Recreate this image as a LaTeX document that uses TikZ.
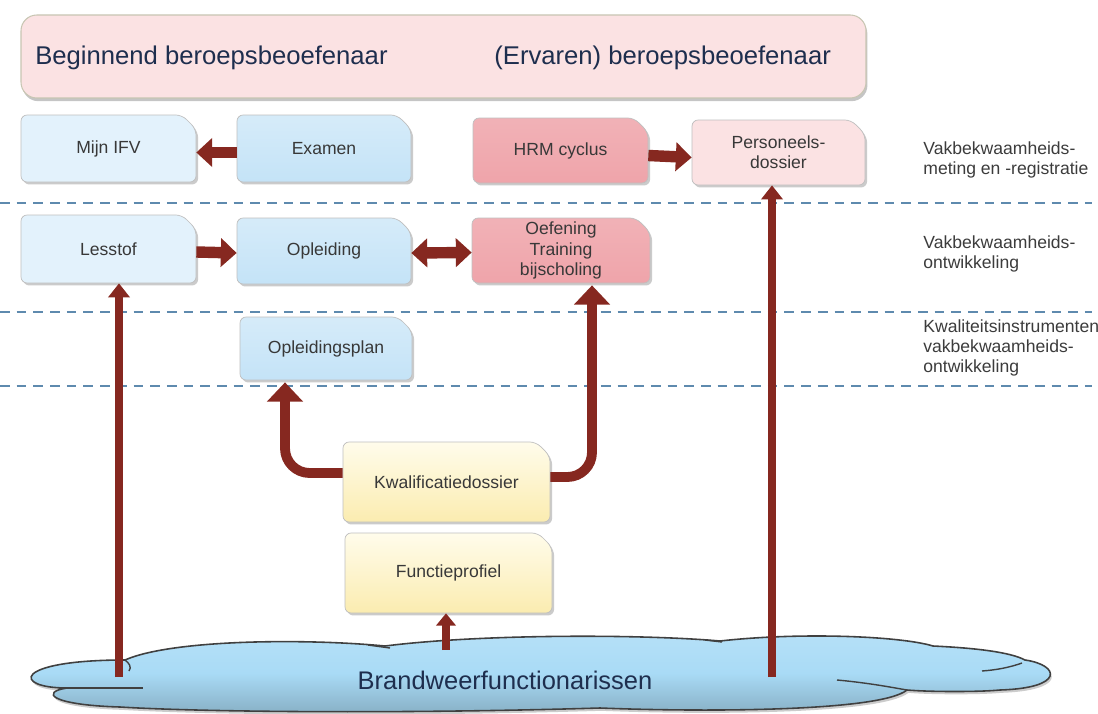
\documentclass[tikz,border=0pt]{standalone}
\usepackage{fontspec}
\setmainfont{Liberation Sans}
\usetikzlibrary{arrows.meta,shadows,calc}
\definecolor{arrred}{HTML}{862820}
\definecolor{dashc}{HTML}{5E8AAE}
\definecolor{lblue}{HTML}{E3F2FC}
\definecolor{mblue}{HTML}{C4E3F7}
\definecolor{dpink}{HTML}{EFA4AA}
\definecolor{lpink}{HTML}{FBE2E3}
\definecolor{ytop}{HTML}{FFFCEB}
\definecolor{ybot}{HTML}{FBECB0}
\definecolor{cloudc}{HTML}{A9DBF6}
\definecolor{navy}{HTML}{1E2E4E}
\definecolor{labelc}{HTML}{3C3C3C}
\tikzset{
  x=0.02cm, y=-0.02cm,
  boxbase/.style={draw=black!25, line width=0.4pt, rounded corners=3.5pt,
    drop shadow={shadow xshift=1.2pt, shadow yshift=-1.4pt, fill=black!45, opacity=0.45}},
  bluelight/.style={fill=lblue},
  bluemid/.style={top color=mblue!70!white, bottom color=mblue},
  pinkdark/.style={top color=dpink!85!white, bottom color=dpink},
  pinklight/.style={fill=lpink},
  yellowbox/.style={top color=ytop, bottom color=ybot},
  boxtext/.style={inner sep=0pt, align=center, text=black!78,
    font=\fontsize{10}{11.5}\selectfont},
  harr/.style={draw=arrred, line width=6.5pt, -{Triangle[width=16pt,length=9pt]}},
  darr/.style={draw=arrred, line width=6.5pt, {Triangle[width=16pt,length=9pt]}-{Triangle[width=16pt,length=9pt]}},
  varr/.style={draw=arrred, line width=4.6pt, -{Triangle[width=12pt,length=8pt]}},
  carr/.style={draw=arrred, line width=5.6pt, rounded corners=14pt, -{Triangle[width=20pt,length=11pt]}},
  sarr/.style={draw=arrred, line width=4pt, -{Triangle[width=11pt,length=7pt]}},
  dashline/.style={draw=dashc, line width=1.1pt, dash pattern=on 5.5pt off 4pt},
  sidelabel/.style={anchor=west, align=left, inner sep=0pt, text=labelc,
    font=\fontsize{10}{11.3}\selectfont},
  cloudstroke/.style={draw=black!75, line width=0.8pt},
}
\newcommand{\mybox}[7]{%
  \path[boxbase,#6] (#2,#5) -- (#2,#3) -- ({#4-14},#3) -- (#4,{#3+14}) -- (#4,#5) -- cycle;
  \pgfmathsetmacro\bw{(#4-#2)*0.02}%
  \pgfmathsetmacro\bh{(#5-#3)*0.02}%
  \node[boxtext, minimum width=\bw cm, minimum height=\bh cm] (#1) at ({(#2+#4)/2},{(#3+#5)/2}) {#7};%
}
\begin{document}
\begin{tikzpicture}
\useasboundingbox[fill=white] (0,0) rectangle (1098,713);

% dashed separators
\draw[dashline] (0,203) -- (1092,203);
\draw[dashline] (0,312) -- (1092,312);
\draw[dashline] (0,386) -- (1092,386);

% banner
\path[draw=olive!35!black!30, line width=0.6pt, fill=lpink, rounded corners=9pt,
  drop shadow={shadow xshift=0.8pt, shadow yshift=-1.8pt, fill=black!50, opacity=0.45}]
  (21,15) rectangle (866,98);
\node[anchor=west, inner sep=0pt, text=navy, font=\fontsize{14.6}{16}\selectfont] (beg) at (35,58) {Beginnend beroepsbeoefenaar};
\node[anchor=west, inner sep=0pt, text=navy, font=\fontsize{14.6}{16}\selectfont] (erv) at (494,58) {(Ervaren) beroepsbeoefenaar};

% boxes
\mybox{mijn}{21}{115}{196}{182}{bluelight}{Mijn IFV}
\mybox{examen}{237}{115}{411}{182}{bluemid}{Examen}
\mybox{hrm}{473}{118}{648}{183}{pinkdark}{HRM cyclus}
\mybox{pers}{692}{120}{865}{185}{pinklight}{Personeels-\\dossier}
\mybox{lesstof}{21}{215}{196}{283}{bluelight}{Lesstof}
\mybox{opl}{237}{218}{411}{284}{bluemid}{Opleiding}
\mybox{oef}{472}{218}{650}{283}{pinkdark}{Oefening\\Training\\bijscholing}
\mybox{oplplan}{240}{317}{412}{380}{bluemid}{Opleidingsplan}
\mybox{kwal}{343}{442}{550}{522}{yellowbox}{Kwalificatiedossier}
\mybox{func}{345}{533}{552}{613}{yellowbox}{Functieprofiel}

% side labels
\node[sidelabel] (lab1) at (923,160) {Vakbekwaamheids-\\meting en -registratie};
\node[sidelabel] (lab2) at (923,254) {Vakbekwaamheids-\\ontwikkeling};
\node[sidelabel] (lab3) at (923,348) {Kwaliteitsinstrumenten\\vakbekwaamheids-\\ontwikkeling};

% cloud
\path[draw=black!75, line width=0.9pt, top color=cloudc!85!white, bottom color=cloudc!80!black,
  middle color=cloudc,
  drop shadow={shadow xshift=0.8pt, shadow yshift=-1.6pt, fill=black!50, opacity=0.4}]
  (67,688) .. controls (12,688) and (12,660) .. (125,660)
  .. controls (170,640) and (300,638) .. (385,646)
  .. controls (480,634) and (640,634) .. (720,641)
  .. controls (800,632) and (900,636) .. (933,646)
  .. controls (975,648) and (1010,652) .. (1025,660)
  .. controls (1060,665) and (1065,688) .. (1000,690)
  .. controls (980,692) and (930,692) .. (907,690)
  .. controls (880,712) and (700,712) .. (600,708)
  .. controls (400,714) and (200,712) .. (120,707)
  .. controls (50,705) and (40,692) .. (67,688) -- cycle;
\draw[cloudstroke] (125,660) .. controls (129,663) and (132,667) .. (129,671);
\draw[cloudstroke] (67,688) -- (143,688);
\draw[cloudstroke] (368,645) -- (390,648);
\draw[cloudstroke] (705,640) -- (722,642);
\draw[cloudstroke] (837,680) .. controls (870,683) and (895,688) .. (907,690);
\draw[cloudstroke] (982,671) .. controls (995,670) and (1008,668) .. (1022,663);
\node[inner sep=0pt, text=navy, font=\fontsize{14.5}{16}\selectfont] (cloud) at (505,680) {Brandweerfunctionarissen};

% arrows
\draw[harr] ($(examen.west)+(0,4)$) -- ($(mijn.east)+(0,4)$);
\draw[harr] ($(hrm.east)+(0,5)$) -- ($(pers.west)+(0,5)$);
\draw[harr] ($(lesstof.east)+(0,3)$) -- ($(opl.west)+(0,2)$);
\draw[darr] ($(opl.east)+(0,2)$) -- ($(oef.west)+(0,2)$);

\coordinate (c1) at (119,677);
\coordinate (c2) at (772,677);
\coordinate (c3) at (446,650);
\draw[varr] (c1) -- (c1 |- lesstof.south);
\draw[varr] (c2) -- (c2 |- pers.south);
\draw[sarr] (c3) -- (c3 |- func.south);

\draw[carr] ($(kwal.west)+(0,-9)$) -| ($(oplplan.south)+(-41,2)$);
\draw[carr] ($(kwal.east)+(0,-5)$) -| ($(oef.south)+(31,2)$);
\end{tikzpicture}
\end{document}
